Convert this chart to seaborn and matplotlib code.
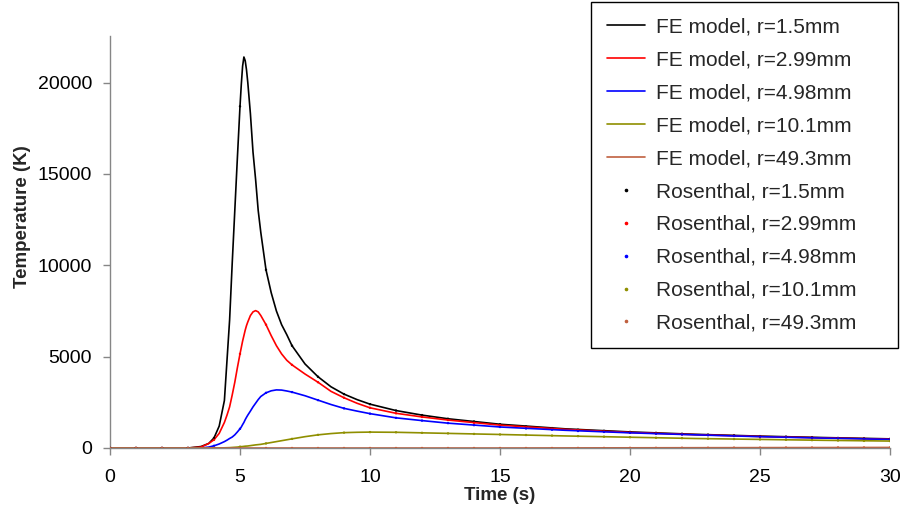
import matplotlib
matplotlib.use("Agg")
import matplotlib.pyplot as plt
from matplotlib.lines import Line2D
import seaborn as sns
import pandas as pd

# ---------------- data ----------------
time_fe = [0, 3, 3.5, 3.8,
           4.0, 4.2, 4.4, 4.5, 4.6, 4.7, 4.8, 4.9,
           5.0, 5.05, 5.1, 5.15, 5.2, 5.25, 5.3, 5.4, 5.5, 5.6, 5.7, 5.8,
           6.0, 6.2, 6.4, 6.6, 6.8, 7.0,
           7.5, 8, 8.5, 9, 9.5, 10,
           11, 12, 13, 15,
           17.5, 20, 22.5, 25, 27.5, 30]

fe_r1_5 = [0, 0, 80, 250,
           550, 1200, 2600, 4800, 7000, 10100, 13000, 15900,
           18700, 19900, 20900, 21400, 21200, 20700, 20000, 18300, 16200, 14700, 13000, 11800,
           9750, 8500, 7500, 6750, 6200, 5600,
           4600, 3900, 3350, 2950, 2650, 2400,
           2050, 1800, 1600, 1300,
           1050, 880, 750, 650, 570, 500]
fe_r2_99 = [0, 0, 50, 250,
            450, 800, 1400, 1800, 2250, 2900, 3600, 4400,
            5150, 5500, 5850, 6150, 6450, 6700, 6900, 7250, 7450, 7520, 7450, 7250,
            6750, 6150, 5600, 5150, 4800, 4550,
            4050, 3600, 3100, 2750, 2450, 2200,
            1900, 1700, 1530, 1250,
            1020, 850, 730, 630, 550, 480]
fe_r4_98 = [0, 0, 0, 50,
            120, 220, 350, 430, 520, 600, 720, 880,
            1050, 1150, 1280, 1400, 1550, 1680, 1800, 2020, 2250, 2450, 2650, 2820,
            3020, 3130, 3180, 3170, 3120, 3060,
            2860, 2620, 2380, 2170, 2020, 1880,
            1650, 1500, 1360, 1150,
            970, 830, 720, 620, 540, 470]
fe_r10_1 = [0, 0, 0, 0,
            0, 0, 10, 15, 20, 30, 40, 50,
            70, 75, 80, 90, 100, 105, 110, 130, 150, 170, 185, 200,
            250, 300, 350, 400, 450, 500,
            620, 720, 790, 840, 860, 870,
            860, 830, 800, 740,
            660, 590, 520, 470, 420, 380]
fe_r49_3 = [0, 0, 0, 0,
            0, 0, 0, 0, 0, 0, 0, 0,
            0, 0, 0, 0, 0, 0, 0, 0, 0, 0, 0, 0,
            0, 0, 0, 0, 0, 0,
            0, 0, 0, 0, 0, 0,
            0, 0, 0, 0,
            5, 10, 15, 20, 25, 30]

time_ros = list(range(0, 31))
ros_r1_5 = [0, 0, 0, 0, 550, 18700, 9750, 5600, 3900, 2950, 2400, 2050, 1800, 1600, 1450, 1300,
            1180, 1090, 1000, 940, 880, 830, 780, 730, 690, 650, 620, 590, 550, 520, 500]
ros_r2_99 = [0, 0, 0, 0, 450, 5150, 6750, 4550, 3600, 2750, 2200, 1900, 1700, 1530, 1380, 1250,
             1150, 1060, 980, 910, 850, 800, 750, 710, 670, 630, 600, 570, 540, 510, 480]
ros_r4_98 = [0, 0, 0, 0, 120, 1050, 3020, 3060, 2620, 2170, 1880, 1650, 1500, 1360, 1250, 1150,
             1070, 1000, 930, 880, 830, 780, 740, 700, 660, 620, 590, 560, 530, 500, 470]
ros_r10_1 = [0, 0, 0, 0, 0, 70, 250, 500, 720, 840, 870, 860, 830, 800, 770, 740,
             710, 680, 650, 620, 590, 560, 540, 510, 490, 470, 450, 430, 410, 390, 380]
ros_r49_3 = [0, 0, 0, 0, 0, 0, 0, 0, 0, 0, 0, 0, 0, 0, 0, 0,
             0, 0, 5, 5, 10, 10, 15, 15, 20, 20, 25, 25, 30, 30, 30]

radii = ["1.5", "2.99", "4.98", "10.1", "49.3"]
colors = ["#000000", "#FF0000", "#0000FF", "#8F8F00", "#C0603F"]
fe_series = [fe_r1_5, fe_r2_99, fe_r4_98, fe_r10_1, fe_r49_3]
ros_series = [ros_r1_5, ros_r2_99, ros_r4_98, ros_r10_1, ros_r49_3]

x_ticks = [0, 5, 10, 15, 20, 25, 30]
y_ticks = [0, 5000, 10000, 15000, 20000]

# ---------------- plotting ----------------
sns.set_theme(style="white")
plt.rcParams["font.family"] = ["Liberation Sans", "DejaVu Sans"]

fig = plt.figure(figsize=(9.03, 5.22), dpi=100)
ax = fig.add_axes([110 / 903, 1 - 448 / 522, 780 / 903, 412 / 522])

fe_names = [f"FE model, r={r}mm" for r in radii]
ros_names = [f"Rosenthal, r={r}mm" for r in radii]

fe_df = pd.concat([pd.DataFrame({"t": time_fe, "T": v, "series": n})
                   for n, v in zip(fe_names, fe_series)], ignore_index=True)
ros_df = pd.concat([pd.DataFrame({"t": time_ros, "T": v, "series": n})
                    for n, v in zip(ros_names, ros_series)], ignore_index=True)

sns.lineplot(data=fe_df, x="t", y="T", hue="series", hue_order=fe_names,
             palette=colors, linewidth=1.2, ax=ax, legend=False, sort=False)
sns.scatterplot(data=ros_df, x="t", y="T", hue="series", hue_order=ros_names,
                palette=colors, s=3, linewidth=0, ax=ax, legend=False, zorder=3)

handles = [Line2D([], [], color=c, lw=1.2) for c in colors] + \
          [Line2D([], [], color=c, lw=0, marker="o", markersize=1.6) for c in colors]
labels = fe_names + ros_names
leg = fig.legend(handles, labels, loc="upper left",
                 bbox_to_anchor=(591 / 903, 1 - 2 / 522, 307 / 903, 0.0),
                 bbox_transform=fig.transFigure, mode="expand",
                 fontsize=15, frameon=True, fancybox=False,
                 edgecolor="#000000", framealpha=1, borderaxespad=0, labelspacing=0.667,
                 handlelength=1.85, handletextpad=0.53, borderpad=0.75)
leg.get_frame().set_linewidth(1.0)

ax.set_xlim(0, 30)
ax.set_ylim(0, 22550)
ax.set_xticks(x_ticks)
ax.set_yticks(y_ticks)
ax.set_xticklabels([str(v) for v in x_ticks])
ax.set_yticklabels([str(v) for v in y_ticks])

for s in ["top", "right"]:
    ax.spines[s].set_visible(False)
for s in ["left", "bottom"]:
    ax.spines[s].set_color("#868686")
    ax.spines[s].set_linewidth(1.0)

ax.tick_params(axis="both", which="major", labelsize=14, colors="#868686",
               labelcolor="#000000", length=5, width=1, direction="out")
ax.tick_params(axis="x", pad=10)
ax.tick_params(axis="y", pad=8)
ax.xaxis.set_ticks_position("bottom")
ax.yaxis.set_ticks_position("left")

ax.set_xlabel("Time (s)", fontsize=13.5, fontweight="bold")
ax.set_ylabel("Temperature (K)", fontsize=13.5, fontweight="bold")
ax.xaxis.set_label_coords(0.5, (448 - 504) / 412)
ax.yaxis.set_label_coords((31 - 110) / 780, (448 - 217) / 412)
ax.xaxis.label.set_va("bottom")

fig.savefig("out.png", dpi=100)
